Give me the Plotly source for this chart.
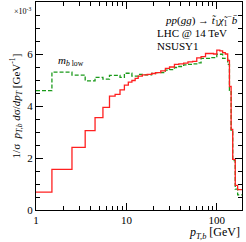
import plotly.graph_objects as go
import math

# bin edges in GeV
bin_edges = [1, 1.5, 2.5, 3.5, 4.5, 5.5, 6.5, 7.5, 8.5, 9.5, 10.5, 11.5, 12.5, 13.5,
             15, 17, 19, 21, 24, 27, 30, 34, 38, 43, 48, 54, 60, 67, 75, 83, 92,
             100, 108, 116, 124, 132, 138, 144, 150, 160, 170, 190]

# NSUSY1 (solid red), in units of 1e-3 GeV^-1
nsusy1 = [0.69, 1.56, 2.41, 3.05, 3.55, 3.95, 4.38, 4.45, 4.62, 4.8, 4.92, 4.98, 5.06,
          5.15, 5.2, 5.22, 5.25, 5.28, 5.35, 5.45, 5.5, 5.6, 5.62, 5.65, 5.7, 5.72,
          5.85, 5.9, 6.02, 6.02, 6.0, 6.15, 6.12, 6.05, 6.0, 5.75, 4.75, 3.1, 1.95,
          0.95, 0.78]

# m_b low (dashed green)
mb_low = [4.59, 5.3, 5.19, 4.97, 5.1, 5.03, 5.18, 5.18, 5.1, 5.26, 5.26, 5.15, 5.15,
          5.22, 5.2, 5.2, 5.25, 5.28, 5.28, 5.38, 5.4, 5.48, 5.52, 5.58, 5.6, 5.62,
          5.66, 5.83, 5.83, 5.86, 5.86, 5.99, 5.99, 5.83, 5.83, 5.6, 4.6, 3.0, 1.9,
          0.8, 0.58]

x_ticks = [1, 10, 100]
x_ticktext = ["1", "10", "100"]
x_minor = [2, 3, 4, 5, 6, 7, 8, 9, 20, 30, 40, 50, 60, 70, 80, 90]
y_ticks = [0, 2, 4, 6]

FONT = "Liberation Serif"

fig = go.Figure()
fig.add_trace(go.Scatter(x=bin_edges, y=mb_low + [mb_low[-1]], mode="lines",
                         line=dict(color="#1a9a1a", width=1.3, dash="4px,2px", shape="hv"),
                         showlegend=False, hoverinfo="skip"))
fig.add_trace(go.Scatter(x=bin_edges, y=nsusy1 + [nsusy1[-1]], mode="lines",
                         line=dict(color="#ff2020", width=1.3, shape="hv"),
                         showlegend=False, hoverinfo="skip"))

fig.update_layout(
    template="none",
    width=246, height=242,
    margin=dict(l=36, r=4, t=2, b=32),
    plot_bgcolor="white", paper_bgcolor="white",
    font=dict(family=FONT, size=11, color="black"),
    showlegend=False,
)
fig.update_xaxes(
    type="log", range=[0, math.log10(190)], automargin=False,
    tickvals=x_ticks, ticktext=x_ticktext,
    ticks="inside", ticklen=7, tickwidth=1, tickcolor="black",
    showline=True, linecolor="black", linewidth=1.2, mirror="allticks",
    showgrid=False, zeroline=False,
    tickfont=dict(family=FONT, size=11),
    minor=dict(tickvals=x_minor, ticks="inside", ticklen=4, tickcolor="black", showgrid=False),
)
fig.update_yaxes(
    range=[0, 8], tickvals=y_ticks, automargin=False,
    ticks="inside", ticklen=7, tickwidth=1, tickcolor="black",
    showline=True, linecolor="black", linewidth=1.2, mirror="allticks",
    showgrid=False, zeroline=False,
    tickfont=dict(family=FONT, size=11),
    minor=dict(dtick=0.5, ticks="inside", ticklen=4, tickcolor="black", showgrid=False),
    title=dict(text="1/σ  <i>p</i><sub><i>T,b</i></sub> <i>d</i>σ/<i>dp</i><sub><i>T</i></sub> [GeV<sup>-1</sup>]",
               font=dict(family=FONT, size=11), standoff=4),
)

fig.add_annotation(xref="paper", yref="paper", x=0, y=0.955, xanchor="right", yanchor="middle",
                   xshift=-3, text="×10<sup>-3</sup>", showarrow=False,
                   font=dict(family=FONT, size=8))
fig.add_annotation(xref="paper", yref="paper", x=1, y=-0.11, xanchor="right", yanchor="middle",
                   text="<i>p</i><sub><i>T,b</i></sub> [GeV]", showarrow=False,
                   font=dict(family=FONT, size=12))
fig.add_annotation(xref="paper", yref="paper", x=0.99, y=0.915, xanchor="right", yanchor="middle",
                   text="<i>pp</i>(<i>gg</i>) → <i>t\u0303</i><sub>1</sub><i>χ\u0303</i><sub>1</sub><sup>−</sup><i>b\u0304</i>",
                   showarrow=False, font=dict(family=FONT, size=11))
fig.add_annotation(xref="paper", yref="paper", x=0.58, y=0.85, xanchor="left", yanchor="middle",
                   text="LHC @ 14 TeV", showarrow=False, font=dict(family=FONT, size=11))
fig.add_annotation(xref="paper", yref="paper", x=0.58, y=0.79, xanchor="left", yanchor="middle",
                   text="NSUSY1", showarrow=False, font=dict(family=FONT, size=11))
fig.add_annotation(xref="x", yref="y", x=math.log10(1.65), y=5.72, xanchor="left", yanchor="middle",
                   text="<i>m</i><sub><i>b</i> low</sub>", showarrow=False,
                   font=dict(family=FONT, size=11, color="black"))

fig.write_html("out.html", config={"displayModeBar": False},
               post_script="document.body.style.margin='0';document.body.style.overflow='hidden';")
